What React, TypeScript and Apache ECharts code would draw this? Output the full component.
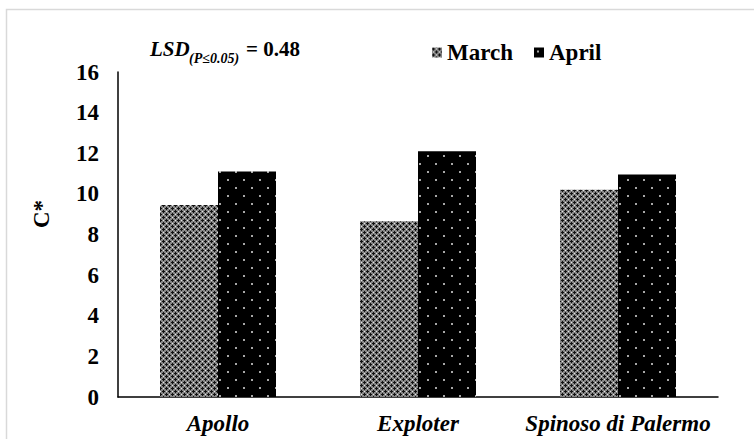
import React, { useEffect, useRef } from "react";
import * as echarts from "echarts";

const categories = ["Apollo", "Exploter", "Spinoso di Palermo"];
const marchValues = [9.45, 8.65, 10.2];
const aprilValues = [11.1, 12.1, 10.95];
const seriesNames = ["March", "April"];
const yMin = 0;
const yMax = 16;
const yInterval = 2;

const FONT = "Liberation Serif, Times New Roman, serif";

function makeMarchPattern(): HTMLCanvasElement {
  const c = document.createElement("canvas");
  c.width = 6;
  c.height = 6;
  const ctx = c.getContext("2d")!;
  ctx.fillStyle = "#858585";
  ctx.fillRect(0, 0, 6, 6);
  ctx.fillStyle = "#111111";
  const diamond = (cx: number, cy: number) => {
    ctx.fillRect(cx, cy, 1, 1);
    ctx.fillRect(cx - 1, cy, 1, 1);
    ctx.fillRect(cx + 1, cy, 1, 1);
    ctx.fillRect(cx, cy - 1, 1, 1);
    ctx.fillRect(cx, cy + 1, 1, 1);
  };
  diamond(1, 1);
  diamond(4, 4);
  ctx.fillStyle = "#e6e6e6";
  ctx.fillRect(4, 1, 1, 1);
  ctx.fillRect(1, 4, 1, 1);
  return c;
}

function makeAprilPattern(): HTMLCanvasElement {
  const c = document.createElement("canvas");
  c.width = 16;
  c.height = 16;
  const ctx = c.getContext("2d")!;
  ctx.fillStyle = "#000000";
  ctx.fillRect(0, 0, 16, 16);
  ctx.fillStyle = "#a8a8a8";
  ctx.fillRect(3, 3, 2, 2);
  ctx.fillRect(11, 11, 2, 2);
  return c;
}

export default function App() {
  const ref = useRef<HTMLDivElement>(null);
  useEffect(() => {
    if (!ref.current) return;
    const chart = echarts.init(ref.current, null, { renderer: "svg" });
    const marchPat = makeMarchPattern();
    const aprilPat = makeAprilPattern();
    const marchFill: any = { image: marchPat, repeat: "repeat", imageWidth: 6, imageHeight: 6 };
    const aprilFill: any = { image: aprilPat, repeat: "repeat", imageWidth: 16, imageHeight: 16 };
    chart.setOption({
      animation: false,
      backgroundColor: "#ffffff",
      textStyle: { fontFamily: FONT },
      grid: { left: 118, right: 36, top: 72, bottom: 42, containLabel: false },
      legend: {
        data: seriesNames,
        left: 432,
        top: 41,
        padding: 0,
        itemWidth: 10,
        itemHeight: 10,
        itemGap: 21,
        icon: "rect",
        textStyle: { fontFamily: FONT, fontWeight: "bold", fontSize: 23, color: "#000" },
      },
      xAxis: {
        type: "category",
        data: categories,
        axisLine: { show: true, lineStyle: { color: "#000", width: 1.5 } },
        axisTick: { show: false },
        axisLabel: {
          interval: 0,
          fontFamily: FONT,
          fontWeight: "bold",
          fontStyle: "italic",
          fontSize: 23,
          color: "#000",
          margin: 15,
        },
      },
      yAxis: {
        type: "value",
        min: yMin,
        max: yMax,
        interval: yInterval,
        axisLine: { show: true, lineStyle: { color: "#000", width: 1.5 } },
        axisTick: { show: false },
        splitLine: { show: false },
        axisLabel: {
          fontFamily: FONT,
          fontWeight: "bold",
          fontSize: 23,
          color: "#000",
          margin: 19,
        },
      },
      series: [
        {
          name: seriesNames[0],
          type: "bar",
          data: marchValues,
          barGap: "0%",
          barCategoryGap: "42%",
          itemStyle: { color: marchFill },
        },
        {
          name: seriesNames[1],
          type: "bar",
          data: aprilValues,
          barGap: "0%",
          barCategoryGap: "42%",
          itemStyle: { color: aprilFill },
        },
      ],
      graphic: [
        {
          type: "rect",
          shape: { x: 6.5, y: 9.5, width: 760, height: 440 },
          style: { fill: "none", stroke: "#d9d9d9", lineWidth: 1.5 },
          silent: true,
        },
        {
          type: "text",
          x: 41,
          y: 214,
          rotation: Math.PI / 2,
          style: {
            text: "C*",
            fontFamily: FONT,
            fontWeight: "bold",
            fontSize: 23,
            fill: "#000",
            align: "center",
            verticalAlign: "middle",
          },
        },
        {
          type: "text",
          x: 150,
          y: 49,
          style: {
            text: "LSD",
            fontFamily: FONT,
            fontWeight: "bold",
            fontStyle: "italic",
            fontSize: 21,
            fill: "#000",
            align: "left",
            verticalAlign: "middle",
          },
        },
        {
          type: "text",
          x: 189,
          y: 58,
          style: {
            text: "(P≤0.05)",
            fontFamily: FONT,
            fontWeight: "bold",
            fontStyle: "italic",
            fontSize: 14,
            fill: "#000",
            align: "left",
            verticalAlign: "middle",
          },
        },
        {
          type: "text",
          x: 246,
          y: 49,
          style: {
            text: "= 0.48",
            fontFamily: FONT,
            fontWeight: "bold",
            fontSize: 21,
            fill: "#000",
            align: "left",
            verticalAlign: "middle",
          },
        },
      ],
    });
    return () => chart.dispose();
  }, []);
  return <div ref={ref} style={{ width: 754, height: 439, position: "absolute", left: 0, top: 0 }} />;
}
